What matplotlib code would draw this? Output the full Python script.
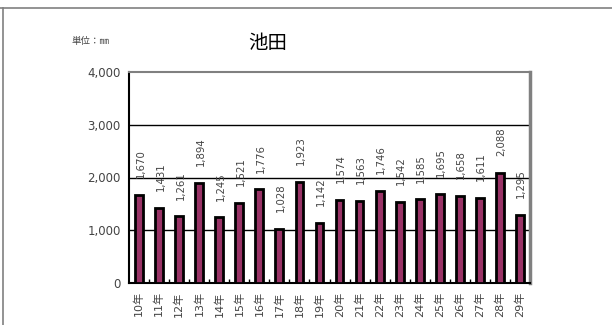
import matplotlib
matplotlib.use("Agg")
import matplotlib.pyplot as plt
from matplotlib.lines import Line2D

plt.rcParams['font.family'] = ['DejaVu Sans', 'Noto Sans CJK JP']

categories = ["10年", "11年", "12年", "13年", "14年", "15年", "16年", "17年", "18年", "19年",
              "20年", "21年", "22年", "23年", "24年", "25年", "26年", "27年", "28年", "29年"]
values = [1670, 1431, 1261, 1894, 1245, 1521, 1776, 1028, 1923, 1142,
          1574, 1563, 1746, 1542, 1585, 1695, 1658, 1611, 2088, 1295]
yticks = [0, 1000, 2000, 3000, 4000]
title = "池田"
unit_label = "単位：㎜"

W, H = 612, 325
fig = plt.figure(figsize=(W / 100, H / 100), dpi=100)
ax = fig.add_axes([129 / W, 1 - 283 / H, (530 - 129) / W, (283 - 72) / H])

x = list(range(len(categories)))
ax.bar(x, values, width=0.39, color="#993366", edgecolor="black", linewidth=2.0, zorder=3)

ax.set_xlim(-0.5, len(categories) - 0.5)
ax.set_ylim(0, 4000)
ax.set_yticks(yticks)
ax.set_yticklabels([f"{v:,}" for v in yticks], fontsize=8.5, color="#444444")
ax.tick_params(axis="y", length=0, pad=6)
for v in yticks[1:-1]:
    ax.axhline(v, color="black", linewidth=1.0, zorder=1)

ax.set_xticks(x)
ax.set_xticklabels(categories, rotation=90, fontsize=8, color="#444444")
ax.tick_params(axis="x", length=0, pad=6)
ax.set_xticks([i + 0.5 for i in x[:-1]], minor=True)
ax.tick_params(axis="x", which="minor", direction="in", length=3, width=1, color="black")

for i, v in enumerate(values):
    ax.annotate(f"{v:,}", (i, v), xytext=(1, 12), textcoords="offset points",
                rotation=90, ha="center", va="bottom", fontsize=7.3, color="#444444")

ax.spines["left"].set_color("black")
ax.spines["left"].set_linewidth(1.5)
ax.spines["bottom"].set_color("black")
ax.spines["bottom"].set_linewidth(1.5)
ax.spines["top"].set_color("#808080")
ax.spines["top"].set_linewidth(1.5)
ax.spines["right"].set_color("#808080")
ax.spines["right"].set_linewidth(2.5)

fig.text(268 / W, 1 - 43 / H, title, ha="center", va="center", fontsize=14,
         color="black", family=['Noto Sans CJK JP', 'DejaVu Sans'])
fig.text(72 / W, 1 - 41 / H, unit_label, ha="left", va="center", fontsize=6.8,
         color="#444444", family=['Noto Sans CJK JP', 'DejaVu Sans'])

fig.add_artist(Line2D([0, 1], [1 - 8 / H, 1 - 8 / H], transform=fig.transFigure,
                      color="#808080", linewidth=1.2))
fig.add_artist(Line2D([3 / W, 3 / W], [0, 1 - 8 / H], transform=fig.transFigure,
                      color="#808080", linewidth=1.2))

fig.savefig("out.png", dpi=100)
